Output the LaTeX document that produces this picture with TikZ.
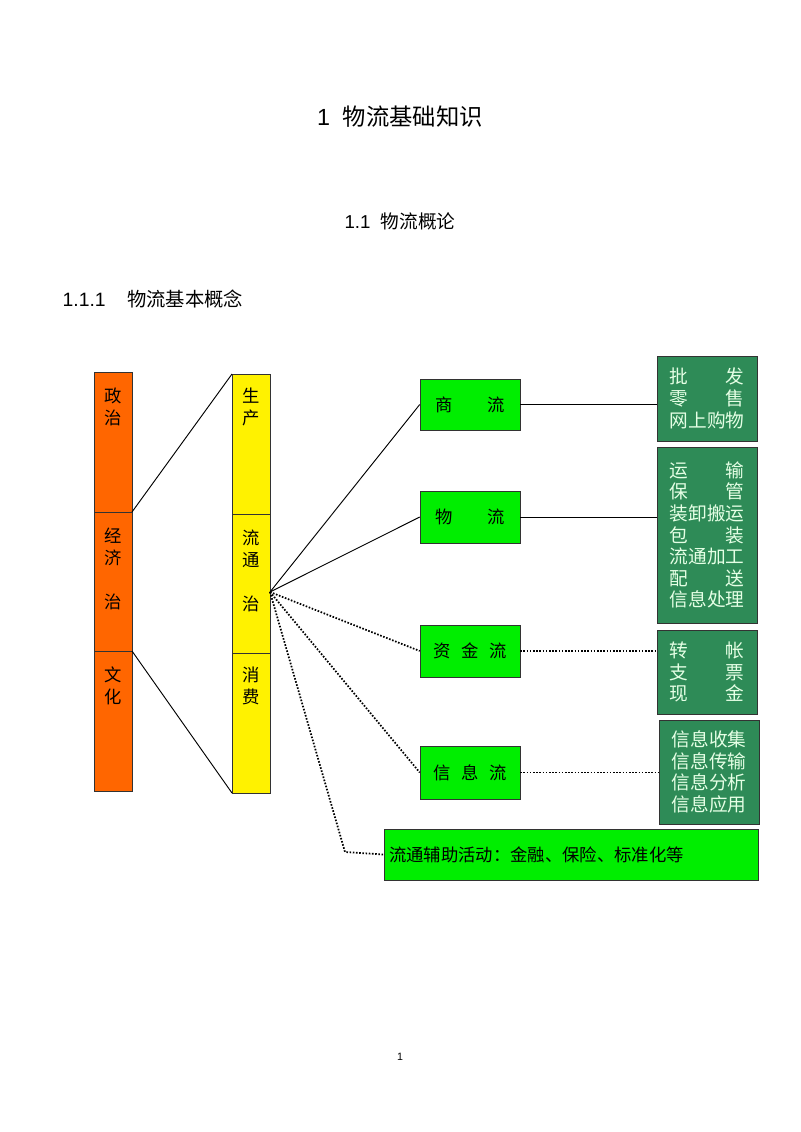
\documentclass[tikz,border=0pt]{standalone}
\usepackage{fontspec}
\setmainfont{Liberation Sans}
\newfontfamily\cjk{Noto Sans CJK SC}
\begin{document}
\begin{tikzpicture}[x=0.75pt,y=-0.75pt,
  orangebox/.style={draw=black!80,fill={rgb,255:red,255;green,102;blue,0}},
  yellowbox/.style={draw=black!80,fill=yellow},
  greenbox/.style={draw=black!80,fill={rgb,255:red,0;green,238;blue,0}},
  darkbox/.style={draw=black!80,fill={rgb,255:red,46;green,139;blue,87}},
  conn/.style={draw=black,line width=0.7pt},
  dotconn/.style={draw=black,line width=1.3pt,dash pattern=on 1.2pt off 1.2pt},
  lbl/.style={font=\cjk\fontsize{13}{15}\selectfont,inner sep=0pt},
  wlbl/.style={font=\cjk\fontsize{14}{16.2}\selectfont,text=white!90!green,inner sep=0pt,align=left}]
\useasboundingbox (0,0) rectangle (800,1132);
\newcommand\spr[2]{\makebox[4em]{#1\hfill#2}}
% headings
\node[font=\fontsize{17.5}{20}\selectfont] (t1) at (400,117) {1\ \ {\cjk 物流基础知识}};
\node[font=\fontsize{14}{16}\selectfont] (t2) at (400,221) {1.1\ \ {\cjk 物流概论}};
\node[font=\fontsize{14.5}{16}\selectfont,anchor=west] (t3) at (58,299) {1.1.1\ \ \ \ {\cjk 物流基本概念}};
\node[font=\fontsize{8}{10}\selectfont] (pg) at (400,1057) {1};
% left columns
\draw[orangebox] (94,372) rectangle (132,512);
\draw[orangebox] (94,512) rectangle (132,651);
\draw[orangebox] (94,651) rectangle (132,791);
\draw[yellowbox] (232,374) rectangle (270,514);
\draw[yellowbox] (232,514) rectangle (270,653);
\draw[yellowbox] (232,653) rectangle (270,793);
\node[lbl,align=center] (z1) at (113,407) {政\\[2pt]治};
\node[lbl,align=center] (z2) at (113,569) {经\\[2pt]济\\[18pt]治};
\node[lbl,align=center] (z3) at (113,686) {文\\[2pt]化};
\node[lbl,align=center] (y1) at (251,407) {生\\[2pt]产};
\node[lbl,align=center] (y2) at (251,571) {流\\[2pt]通\\[18pt]治};
\node[lbl,align=center] (y3) at (251,686) {消\\[2pt]费};
\coordinate (oa) at (132,512); \coordinate (ya) at (232,374);
\coordinate (ob) at (132,651); \coordinate (yb) at (232,793);
\coordinate (hub) at (270,592);
\draw[conn] (oa) -- (ya);
\draw[conn] (ob) -- (yb);
% green boxes
\node[greenbox,lbl,minimum width=100*0.75pt,minimum height=51*0.75pt] (g1) at (470,404.5) {商\hspace{2em}流};
\node[greenbox,lbl,minimum width=100*0.75pt,minimum height=52*0.75pt] (g2) at (470,517) {物\hspace{2em}流};
\node[greenbox,lbl,minimum width=100*0.75pt,minimum height=52*0.75pt] (g3) at (470,651) {资\hspace{0.6em}金\hspace{0.6em}流};
\node[greenbox,lbl,minimum width=100*0.75pt,minimum height=53*0.75pt] (g4) at (470,772.5) {信\hspace{0.6em}息\hspace{0.6em}流};
\node[greenbox,lbl,minimum width=374*0.75pt,minimum height=51*0.75pt,text width=364*0.75pt,align=left] (g5) at (571,854.5) {流通辅助活动：金融、保险、标准化等};
% dark boxes
\node[darkbox,minimum width=100*0.75pt,minimum height=85*0.75pt] (d1) at (707,398.5) {};
\node[wlbl,font=\cjk\fontsize{14}{16.5}\selectfont] (d1t) at (d1) {\spr{批}{发}\\\spr{零}{售}\\网上购物};
\node[darkbox,minimum width=100*0.75pt,minimum height=176*0.75pt] (d2) at (707,535) {};
\node[wlbl] (d2t) at (d2) {\spr{运}{输}\\\spr{保}{管}\\装卸搬运\\\spr{包}{装}\\流通加工\\\spr{配}{送}\\信息处理};
\node[darkbox,minimum width=100*0.75pt,minimum height=84*0.75pt] (d3) at (707,672) {};
\node[wlbl] (d3t) at (d3) {\spr{转}{帐}\\\spr{支}{票}\\\spr{现}{金}};
\node[darkbox,minimum width=100*0.75pt,minimum height=104*0.75pt] (d4) at (709,772) {};
\node[wlbl] (d4t) at (d4) {信息收集\\信息传输\\信息分析\\信息应用};
% connectors
\draw[conn] (hub) -- (g1.west);
\draw[conn] (hub) -- (g2.west);
\draw[dotconn] (hub) -- (g3.west);
\draw[dotconn] (hub) -- (g4.west);
\coordinate (bend) at (345,852);
\draw[dotconn] (hub) -- (bend) -- (g5.west);
\draw[conn] (g1.east) -- (d1.west |- g1.east);
\draw[conn] (g2.east) -- (d2.west |- g2.east);
\draw[dotconn] (g3.east) -- (d3.west |- g3.east);
\draw[dotconn] (g4.east) -- (d4.west |- g4.east);
\end{tikzpicture}
\end{document}
